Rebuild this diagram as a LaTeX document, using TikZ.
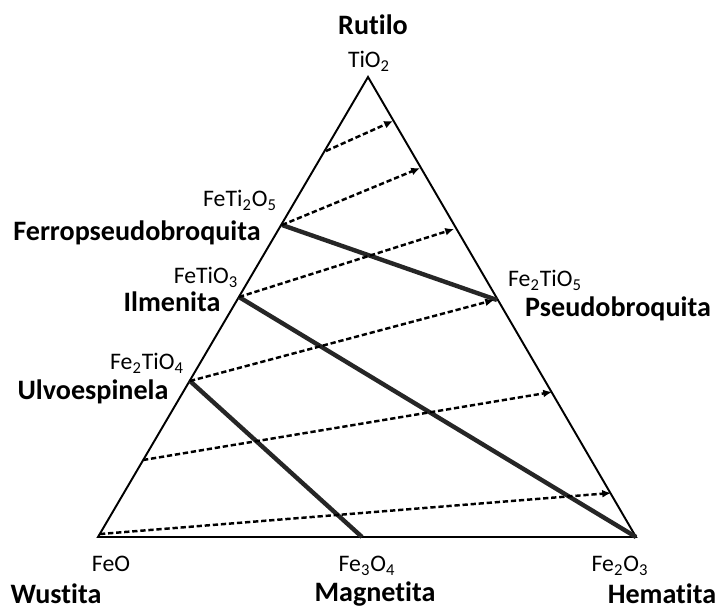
\documentclass[tikz,border=0pt]{standalone}
\usepackage{fontspec}
\setmainfont{Carlito}[Ligatures=CommonOff]
\usepackage{tikz}
\usetikzlibrary{arrows.meta}

\begin{document}
\begin{tikzpicture}[x=0.02cm, y=-0.02cm, every node/.style={font=\fontsize{13.5}{16}\selectfont, inner sep=0pt}]
\tikzstyle{mineral}=[font=\fontsize{16}{18}\selectfont\bfseries]
\tikzstyle{side}=[line width=1.1pt, line join=miter]
\tikzstyle{tie}=[line width=2.5pt, draw=black!85]
\tikzstyle{oxid}=[line width=1.4pt, dash pattern=on 3pt off 1.6pt, -{Latex[length=5pt,width=4.5pt]}]
\useasboundingbox (0,0) rectangle (719,611);
% vertices
\coordinate (tio2) at (368,77);
\coordinate (feo) at (98,537);
\coordinate (fe2o3) at (636,537);
\coordinate (fe3o4) at (362,537);
% points on the sides
\coordinate (feti2o5) at (282,225);
\coordinate (fetio3) at (239,297);
\coordinate (fe2tio4) at (190,381);
\coordinate (fe2tio5) at (497,300);
\coordinate (l1) at (326,151);
\coordinate (l5) at (143,460);
\coordinate (l6) at (100,534);
\coordinate (r1) at (393,121);
\coordinate (r2) at (420,168);
\coordinate (r3) at (454,229);
\coordinate (r4) at (494,300);
\coordinate (r5) at (552,392);
\coordinate (r6) at (611,493);
% triangle
\draw[side] (feo) -- (tio2) -- (fe2o3) -- cycle;
% tie lines
\draw[tie] (feti2o5) -- (fe2tio5);
\draw[tie] (fetio3) -- (fe2o3);
\draw[tie] (fe2tio4) -- (fe3o4);
% oxidation arrows
\draw[oxid] (l1) -- (r1);
\draw[oxid] (feti2o5) -- (r2);
\draw[oxid] (fetio3) -- (r3);
\draw[oxid] (fe2tio4) -- (r4);
\draw[oxid] (l5) -- (r5);
\draw[oxid] (l6) -- (r6);
% labels
\node[mineral] (rut) at (373,25) {Rutilo};
\node (ftio2) at (369,61) {TiO\textsubscript{2}};
\node (fferti) at (240,200) {FeTi\textsubscript{2}O\textsubscript{5}};
\node[mineral] (ferro) at (137,233) {Ferropseudobroquita};
\node (ffetio) at (206,277) {FeTiO\textsubscript{3}};
\node[mineral] (ilm) at (172,302) {Ilmenita};
\node (fulvo) at (147,363) {Fe\textsubscript{2}TiO\textsubscript{4}};
\node[mineral] (ulvo) at (93,392) {Ulvoespinela};
\node (fpseudo) at (545,280) {Fe\textsubscript{2}TiO\textsubscript{5}};
\node[mineral] (pseudo) at (618,309) {Pseudobroquita};
\node (ffeo) at (111,564) {FeO};
\node[mineral] (wus) at (56,594) {Wustita};
\node (fmag) at (367,566) {Fe\textsubscript{3}O\textsubscript{4}};
\node[mineral] (mag) at (375,594) {Magnetita};
\node (fhem) at (620,566) {Fe\textsubscript{2}O\textsubscript{3}};
\node[mineral] (hem) at (662,594) {Hematita};
\end{tikzpicture}
\end{document}
